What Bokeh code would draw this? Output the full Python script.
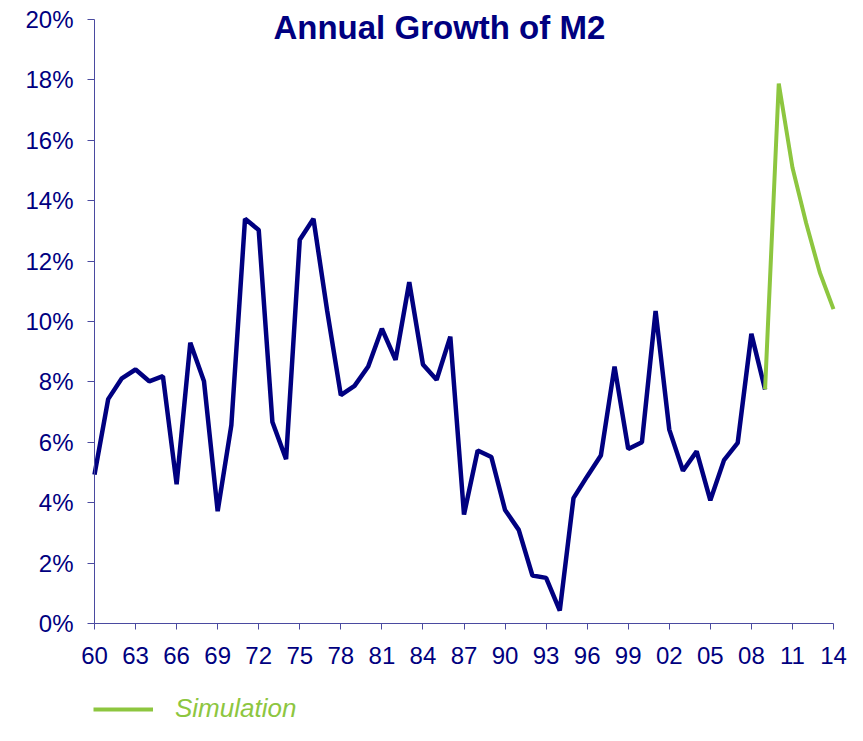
from bokeh.plotting import figure
from bokeh.models import (Range1d, FixedTicker, Label, Legend, LegendItem)
from bokeh.embed import file_html
from bokeh.resources import INLINE

# ---- data ----
years = list(range(1960, 2010))
m2_growth = [4.93, 7.43, 8.12, 8.41, 8.02, 8.19, 4.61, 9.30, 8.02, 3.72,
             6.57, 13.40, 13.03, 6.67, 5.44, 12.71, 13.40, 10.36, 7.56, 7.87,
             8.51, 9.76, 8.73, 11.30, 8.58, 8.07, 9.50, 3.61, 5.73, 5.51,
             3.76, 3.10, 1.59, 1.51, 0.43, 4.15, 4.87, 5.56, 8.51, 5.78,
             6.00, 10.35, 6.42, 5.06, 5.70, 4.08, 5.41, 5.98, 9.59, 7.75]
sim_years = [2009, 2010, 2011, 2012, 2013, 2014]
sim_growth = [7.75, 17.88, 15.10, 13.26, 11.62, 10.41]

x_ticks = list(range(1960, 2015, 3))
x_tick_labels = ["60", "63", "66", "69", "72", "75", "78", "81", "84", "87",
                 "90", "93", "96", "99", "02", "05", "08", "11", "14"]
y_ticks = [0, 2, 4, 6, 8, 10, 12, 14, 16, 18, 20]
y_tick_labels = ["0%", "2%", "4%", "6%", "8%", "10%", "12%", "14%", "16%", "18%", "20%"]

title_text = "Annual Growth of M2"
legend_text = "Simulation"

NAVY = "#000080"
GREEN = "#8DC63F"
AXIS = "#4A4AA0"
FONT = "Liberation Sans"

W, H = 847, 725
# layout: plot region 94..833 px horizontally, 19..623 px vertically
PX_PER_PCT = (623 - 19) / 20.0
PX_PER_YEAR = (833 - 94) / 54.0
LEFT_PAD, RIGHT_PAD = 94, W - 833
TOP_PAD, BOTTOM_PAD = 19, H - 623

p = figure(width=W, height=H, output_backend="svg", toolbar_location=None,
           x_range=Range1d(1960 - LEFT_PAD / PX_PER_YEAR, 2014 + RIGHT_PAD / PX_PER_YEAR),
           y_range=Range1d(-BOTTOM_PAD / PX_PER_PCT, 20 + TOP_PAD / PX_PER_PCT),
           min_border_left=0, min_border_right=0, min_border_top=0,
           min_border_bottom=0)
p.outline_line_color = None
p.grid.visible = False
p.background_fill_color = "white"
p.border_fill_color = "white"

for ax in (p.xaxis[0], p.yaxis[0]):
    ax.axis_line_color = AXIS
    ax.axis_line_width = 1
    ax.major_tick_line_color = AXIS
    ax.major_tick_line_width = 1
    ax.minor_tick_line_color = None
    ax.major_tick_in = 0
    ax.major_label_text_color = NAVY
    ax.major_label_text_font = FONT
    ax.major_label_text_font_size = "24px"

p.xaxis.ticker = FixedTicker(ticks=x_ticks)
p.xaxis.major_label_overrides = {t: l for t, l in zip(x_ticks, x_tick_labels)}
p.xaxis.major_tick_out = 6
p.xaxis.major_label_standoff = 17
p.xaxis.fixed_location = 0
p.xaxis.bounds = (1960, 2014)

p.yaxis.ticker = FixedTicker(ticks=y_ticks)
p.yaxis.major_label_overrides = {t: l for t, l in zip(y_ticks, y_tick_labels)}
p.yaxis.major_tick_out = 7
p.yaxis.major_label_standoff = 14
p.yaxis.fixed_location = 1960
p.yaxis.bounds = (0, 20)

p.line(years, m2_growth, line_color=NAVY, line_width=4.5)
sim = p.line(sim_years, sim_growth, line_color=GREEN, line_width=4)

title = Label(x=1985.2, y=19.75, text=title_text,
              text_font=FONT, text_font_style="bold", text_font_size="33px",
              text_color=NAVY, text_align="center", text_baseline="middle")
p.add_layout(title)

legend = Legend(items=[LegendItem(label=legend_text, renderers=[sim])],
                location=(93, 1), orientation="horizontal",
                glyph_width=60, glyph_height=30, label_height=30,
                label_standoff=22, padding=0, margin=0, spacing=0,
                border_line_alpha=0, background_fill_alpha=0,
                label_text_font=FONT, label_text_font_style="italic",
                label_text_font_size="26px", label_text_color=GREEN)
p.add_layout(legend, "center")

open("out.html", "w").write(file_html(p, INLINE))
